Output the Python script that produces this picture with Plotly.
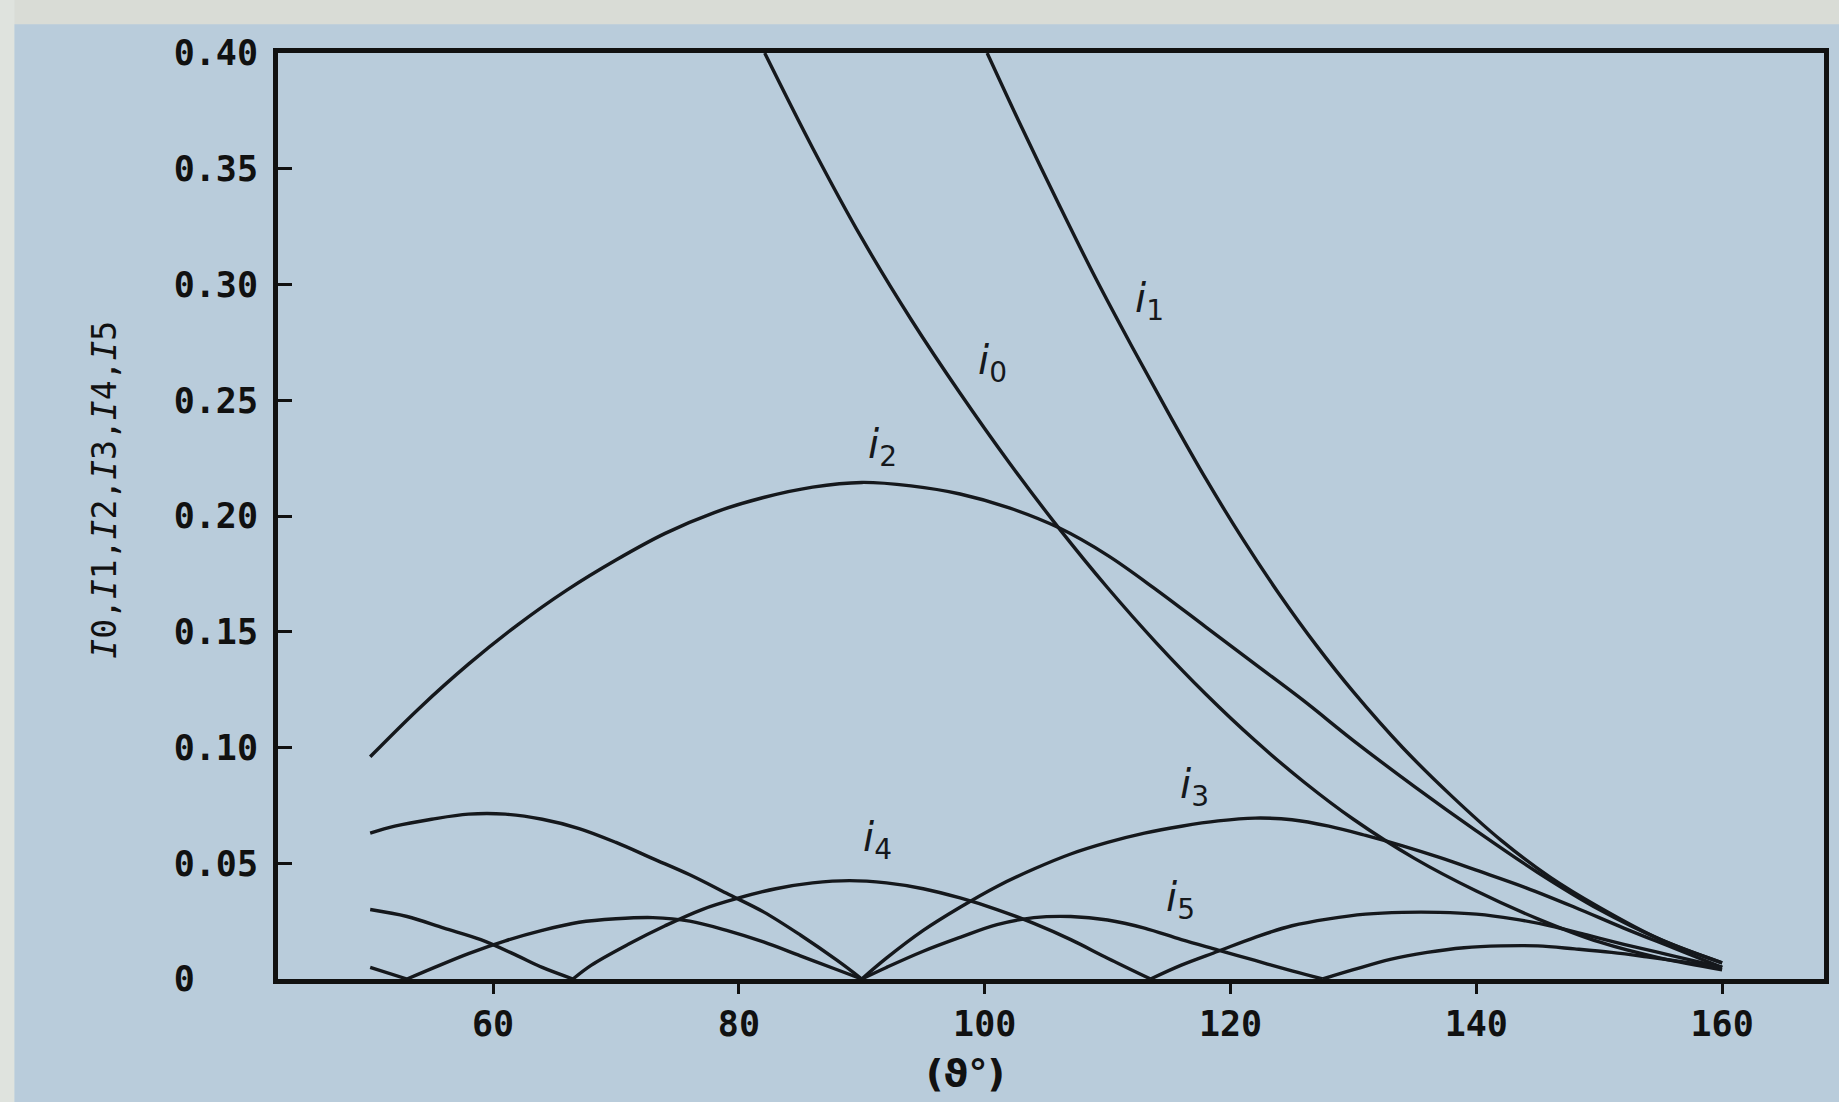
import plotly.graph_objects as go

# Harmonic amplitudes i0..i5 versus angle (degrees).
# Lobes of the oscillating harmonics are separated by None so each lobe is its own smooth arc.

i0_x = [82.1, 86, 90, 94, 98, 102, 106, 110, 114, 118, 122, 126, 130, 135, 140, 145, 150, 155, 160]
i0_y = [0.400, 0.359, 0.320, 0.285, 0.253, 0.223, 0.195, 0.169, 0.145, 0.123, 0.103, 0.085, 0.069,
        0.052, 0.038, 0.026, 0.016, 0.009, 0.004]

i1_x = [100.2, 103, 106, 109, 112, 115, 118, 121, 124, 127, 130, 134, 138, 142, 146, 150, 155, 160]
i1_y = [0.400, 0.368, 0.335, 0.303, 0.273, 0.244, 0.216, 0.190, 0.166, 0.144, 0.124, 0.100, 0.079,
        0.060, 0.044, 0.031, 0.017, 0.007]

i2_x = [50, 54, 58, 62, 66, 70, 74, 78, 82, 86, 90, 94, 98, 102, 106, 110, 114, 118, 122, 126,
        130, 135, 140, 145, 150, 155, 160]
i2_y = [0.096, 0.117, 0.136, 0.153, 0.168, 0.181, 0.1925, 0.2015, 0.208, 0.2125, 0.2145, 0.213,
        0.2095, 0.2035, 0.195, 0.183, 0.168, 0.152, 0.136, 0.120, 0.103, 0.083, 0.064, 0.046,
        0.030, 0.017, 0.007]

i3_x = [50, 52, 55, 58, 61, 64, 67, 70, 73, 76, 79, 82, 85, 88, 90, None,
        90, 92, 95, 98, 101, 104, 107, 110, 113, 116, 119, 122, 125, 128, 131, 134, 137, 140,
        144, 148, 152, 156, 160]
i3_y = [0.063, 0.066, 0.069, 0.0712, 0.0712, 0.069, 0.065, 0.059, 0.052, 0.045, 0.037, 0.029,
        0.019, 0.008, 0.0, None,
        0.0, 0.009, 0.021, 0.031, 0.040, 0.0475, 0.054, 0.059, 0.063, 0.066, 0.0683, 0.0695,
        0.0688, 0.066, 0.062, 0.0575, 0.0525, 0.047, 0.0395, 0.031, 0.022, 0.0135, 0.005]

i4_x = [50, 53, 56, 59, 62, 64, 66.5, None,
        66.5, 68, 71, 74, 77, 80, 83, 86, 89, 92, 95, 98, 101, 104, 107, 110, 113.5, None,
        113.5, 116, 119, 122, 125, 128, 131, 134, 137, 140, 143, 146, 149, 152, 156, 160]
i4_y = [0.030, 0.027, 0.022, 0.017, 0.010, 0.005, 0.0, None,
        0.0, 0.006, 0.015, 0.023, 0.030, 0.035, 0.039, 0.0415, 0.0425, 0.0415, 0.039, 0.035,
        0.030, 0.024, 0.017, 0.009, 0.0, None,
        0.0, 0.006, 0.012, 0.018, 0.023, 0.026, 0.028, 0.0288, 0.0288, 0.028, 0.026, 0.023,
        0.019, 0.015, 0.010, 0.005]

i5_x = [50, 53, None,
        53, 55, 58, 61, 64, 67, 70, 73, 76, 79, 82, 85, 88, 90, None,
        90, 92, 95, 98, 101, 104, 107, 110, 113, 116, 119, 122, 125, 127.5, None,
        127.5, 130, 133, 136, 139, 142, 145, 148, 151, 154, 157, 160]
i5_y = [0.005, 0.0, None,
        0.0, 0.0045, 0.011, 0.0165, 0.021, 0.0245, 0.026, 0.0265, 0.025, 0.021, 0.016, 0.010,
        0.004, 0.0, None,
        0.0, 0.005, 0.012, 0.018, 0.0235, 0.0265, 0.027, 0.0255, 0.022, 0.017, 0.0125, 0.008,
        0.0035, 0.0, None,
        0.0, 0.004, 0.0085, 0.0115, 0.0135, 0.0143, 0.0143, 0.013, 0.0115, 0.0095, 0.0073, 0.005]

series = [("i0", i0_x, i0_y), ("i1", i1_x, i1_y), ("i2", i2_x, i2_y),
          ("i3", i3_x, i3_y), ("i4", i4_x, i4_y), ("i5", i5_x, i5_y)]

# curve labels: (subscript, x, y)
curve_labels = [("0", 100.6, 0.266), ("1", 113.4, 0.293), ("2", 91.7, 0.230),
                ("3", 117.1, 0.083), ("4", 91.3, 0.060), ("5", 115.9, 0.034)]

x_ticks = [60, 80, 100, 120, 140, 160]
y_ticks = [0, 0.05, 0.10, 0.15, 0.20, 0.25, 0.30, 0.35, 0.40]
y_ticktext = ["0\u00a0\u00a0\u00a0", "0.05", "0.10", "0.15", "0.20", "0.25", "0.30", "0.35", "0.40"]

INK = "#15181c"
BG = "#b9ccdb"
MONO = "DejaVu Sans Mono"

fig = go.Figure()
for name, xs, ys in series:
    fig.add_trace(go.Scatter(
        x=xs, y=ys, mode="lines", name=name,
        line=dict(color=INK, width=3.4, shape="spline", smoothing=1.0),
        connectgaps=False, showlegend=False, hoverinfo="skip",
    ))

annotations = []
for sub, lx, ly in curve_labels:
    annotations.append(dict(
        x=lx, y=ly, xref="x", yref="y", showarrow=False,
        text=f"<i>i</i><sub>{sub}</sub>",
        font=dict(family="DejaVu Sans", size=40, color=INK),
        xanchor="center", yanchor="middle",
    ))

# axis titles
annotations.append(dict(
    x=98.4, y=-0.1015, xref="x", yref="paper", showarrow=False,
    text="<b>(ϑ°)</b>", font=dict(family="DejaVu Sans", size=38, color="#111"),
    xanchor="center", yanchor="middle",
))
annotations.append(dict(
    x=-0.1128, y=0.528, xref="paper", yref="paper", showarrow=False, textangle=-90,
    text="<i>I</i>0,<i>I</i>1,<i>I</i>2,<i>I</i>3,<i>I</i>4,<i>I</i>5",
    font=dict(family=MONO, size=33, color="#111"),
    xanchor="center", yanchor="middle",
))

shapes = [
    # pale page strips at the top and left edge
    dict(type="rect", xref="paper", yref="paper", x0=-0.2, x1=1.02, y0=1.031, y1=1.07,
         fillcolor="#d9dcd6", line=dict(width=0), layer="below"),
    dict(type="rect", xref="paper", yref="paper", x0=-0.2, x1=-0.1705, y0=-0.2, y1=1.07,
         fillcolor="#dfe3de", line=dict(width=0), layer="below"),
]

fig.update_layout(
    width=1839, height=1102,
    margin=dict(l=278, r=10, t=53, b=123),
    paper_bgcolor=BG, plot_bgcolor=BG,
    annotations=annotations, shapes=shapes,
    showlegend=False,
)

fig.update_xaxes(
    range=[42.5, 168.29], tickvals=x_ticks, ticktext=[str(v) for v in x_ticks],
    ticks="outside", ticklen=10, tickwidth=3, tickcolor="#111",
    showline=True, linewidth=5, linecolor="#111", mirror=True,
    showgrid=False, zeroline=False,
    tickfont=dict(family=MONO, size=35, color="#111", weight="bold"),
)
fig.update_yaxes(
    range=[0, 0.40], tickvals=y_ticks, ticktext=y_ticktext,
    ticks="inside", ticklen=14, tickwidth=3, tickcolor="#111",
    showline=True, linewidth=5, linecolor="#111", mirror=True,
    showgrid=False, zeroline=False, ticklabelstandoff=8,
    tickfont=dict(family=MONO, size=35, color="#111", weight="bold"),
)

fig.write_html("out.html")
